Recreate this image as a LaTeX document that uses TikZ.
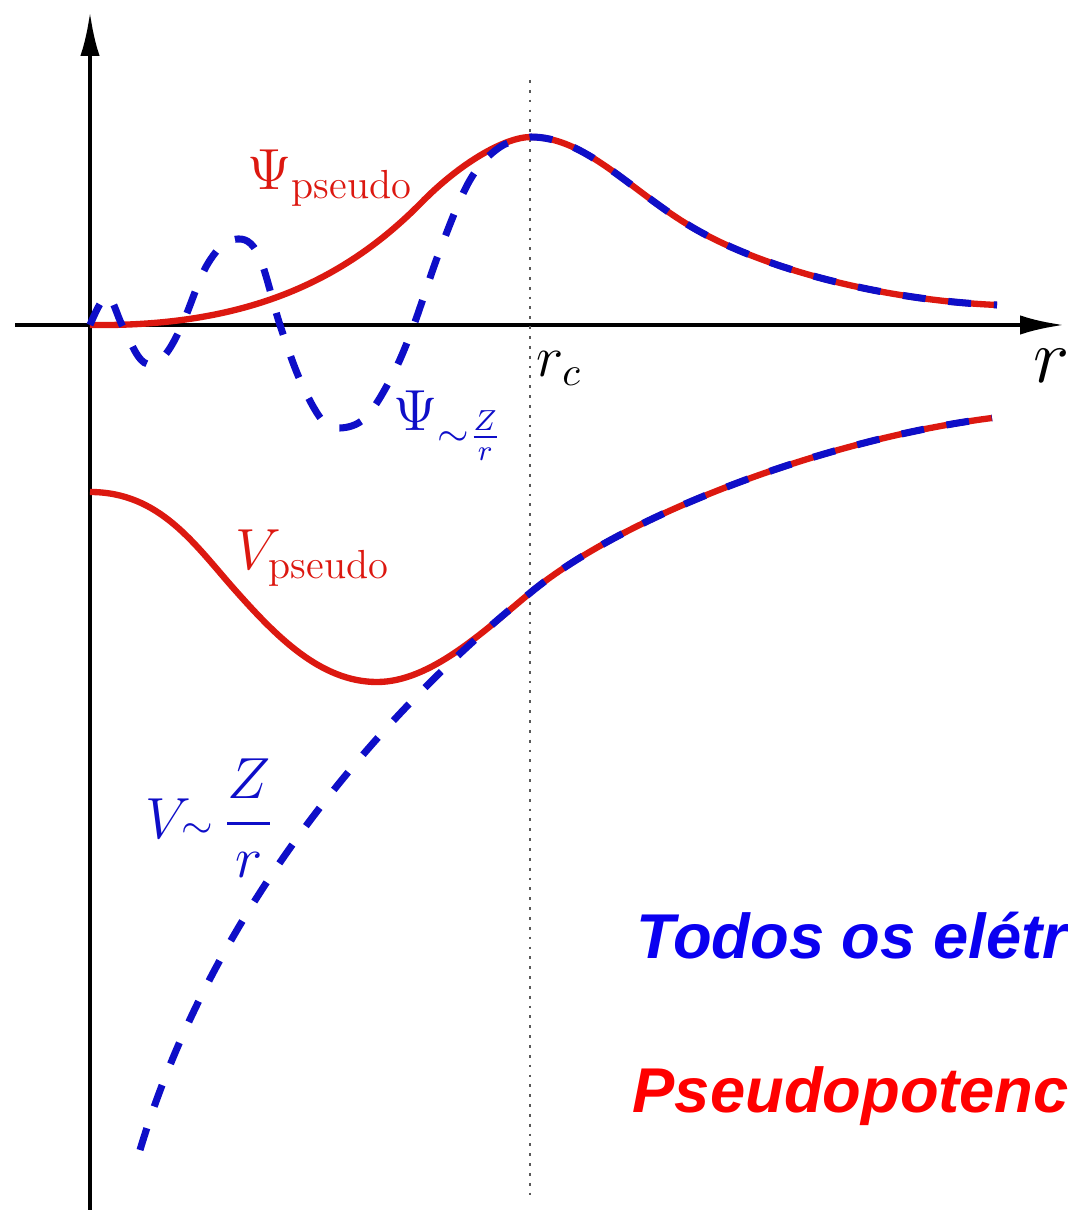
\documentclass[tikz,border=0pt]{standalone}
\usepackage{fix-cm}
\usepackage{amsmath}
\usepackage{fontspec}
\newfontfamily\slidefont{Liberation Sans}
\usetikzlibrary{arrows.meta}
\definecolor{psred}{RGB}{220,24,16}
\definecolor{aeblue}{RGB}{14,14,200}
\definecolor{txtblue}{RGB}{10,0,240}
\definecolor{txtred}{RGB}{255,0,0}
% common tails outside r_c
\newcommand{\psitail}{.. controls (585,137) and (630,190) .. (690,226) .. controls (760,268) and (880,300) .. (997,305)}
\newcommand{\vtail}{.. controls (620,518) and (820,440) .. (992,418)}

\begin{document}
\begin{tikzpicture}[x=0.01cm, y=-0.01cm,
  axis/.style={line width=1.2pt, -{Latex[length=12.5pt,width=5.5pt]}},
  pseudo/.style={draw=psred, line width=1.8pt},
  allel/.style={draw=aeblue, line width=2pt, dash pattern=on 6.5pt off 6.5pt},
  lbl/.style={font=\fontsize{16.5}{20}\selectfont, inner sep=0pt, anchor=base west},
  slide/.style={font=\slidefont\bfseries\itshape\fontsize{18}{22}\selectfont, inner sep=0pt, anchor=base west}
]
\useasboundingbox (0,0) rectangle (1067,1210);

% axes and cut-off radius
\coordinate (ybot)  at (90,1210);
\coordinate (ytop)  at (90,12);
\coordinate (xbeg)  at (15,325);
\coordinate (xend)  at (1064,325);
\coordinate (rctop) at (530,80);
\coordinate (rcbot) at (530,1195);
\coordinate (psipk) at (531,137);
\coordinate (vmeet) at (530,593);

\draw[axis] (ybot) -- (ytop);
\draw[axis] (xbeg) -- (xend);
\draw[gray!70!black, line width=0.8pt, dotted] (rctop) -- (rcbot);

% wave functions
\draw[pseudo] (90,325) .. controls (240,327) and (340,285) .. (421,203)
  .. controls (460,163) and (505,137) .. (psipk) \psitail;
\draw[allel] plot[smooth, tension=0.6] coordinates {(90,325) (107,296) (122,325) (138,356) (150,364) (165,355) (182,325) (207,265) (232,240) (257,252) (280,325) (300,380) (322,420) (340,428) (365,418) (390,380) (412,330) (440,250) (470,180) (500,147) (531,137)} \psitail;

% potentials
\draw[pseudo] (90,492) .. controls (160,492) and (195,545) .. (235,590)
  .. controls (275,635) and (320,682) .. (377,682)
  .. controls (430,682) and (483,632) .. (vmeet) \vtail;
\draw[allel] (140,1150) .. controls (215,900) and (390,705) .. (vmeet) \vtail;

% labels
\node[lbl, text=psred] (psilab) at (247,190) {$\Psi_{\mathrm{pseudo}}$};
\node[lbl, text=aeblue] (psizlab) at (393,431) {$\Psi_{\sim\frac{Z}{r}}$};
\node[lbl, text=psred] (vlab) at (235,570) {$V_{\mathrm{pseudo}}$};
\node[lbl, text=aeblue] (vzlab) at (145,838) {$V\!\mathord{\scriptstyle\sim}\,\dfrac{Z}{r}$};
\node[lbl] (rclab) at (536,377) {$r_c$};
\node[font=\fontsize{22}{26}\selectfont, inner sep=0pt, anchor=base west] (rlab) at (1033,383) {$r$};

\node[slide, text=txtblue] (allnote) at (636,958) {Todos os elétr};
\node[slide, text=txtred] (psnote) at (632,1112) {Pseudopotenc};
\end{tikzpicture}
\end{document}
